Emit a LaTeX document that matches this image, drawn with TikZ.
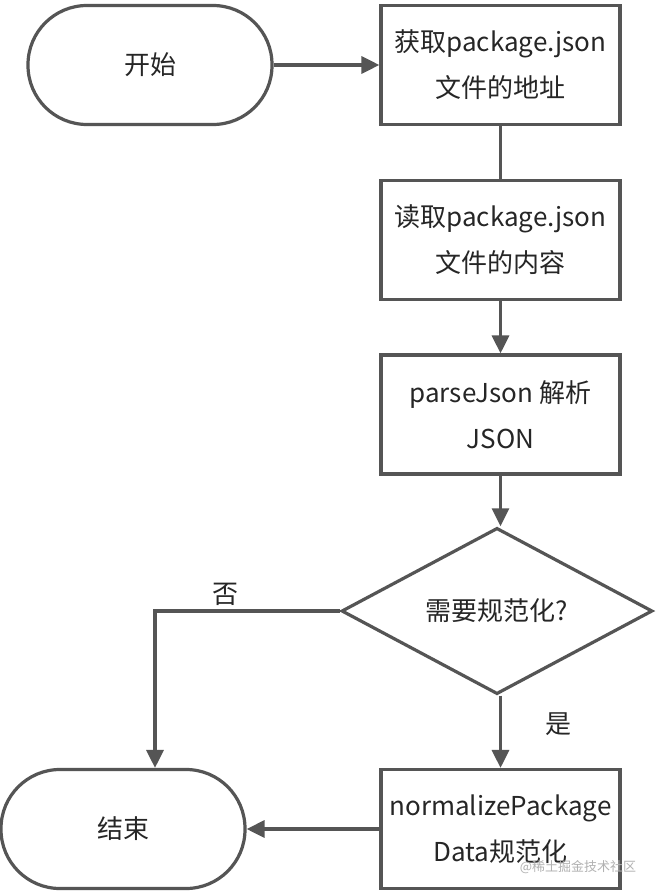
\documentclass[tikz,border=0pt]{standalone}
\usepackage{fontspec}
\setmainfont{Noto Sans CJK SC}
\usetikzlibrary{arrows.meta,shapes.geometric}
\definecolor{ln}{HTML}{555555}
\begin{document}
\begin{tikzpicture}[x=1pt,y=-1pt,
  every node/.style={font=\fontsize{26}{46}\selectfont, text=black!85},
  procbox/.style={draw=ln, line width=3.2pt, minimum width=239pt, minimum height=119pt, inner sep=0pt, align=center},
  term/.style={draw=ln, line width=3.2pt, minimum width=244pt, minimum height=119pt, rounded corners=59pt, inner sep=0pt},
  decide/.style={draw=ln, line width=3.2pt, diamond, minimum width=311pt, minimum height=158pt, inner sep=0pt},
  conn/.style={draw=ln, line width=3.2pt},
  arr/.style={conn, -{Triangle[length=18pt,width=17pt]}},
  lbl/.style={font=\fontsize{26}{30}\selectfont}
]
\path[fill=white] (0,0) rectangle (657,896);
\useasboundingbox (0,0) rectangle (657,896);

\node[term] (start) at (150,65) {开始};
\node[procbox] (b1) at (500.5,65) {获取package.json\\文件的地址};
\node[procbox] (b2) at (500.5,240) {读取package.json\\文件的内容};
\node[procbox] (b3) at (500.5,414.5) {parseJson 解析\\JSON};
\node[decide] (d) at (497,611) {需要规范化?};
\node[procbox] (b4) at (500.5,829) {normalizePackage\\Data规范化};
\node[term] (end) at (123,829) {结束};

\coordinate (corner) at (155,611);

\draw[arr] (start) -- (b1);
\draw[conn] (b1) -- (b2);
\draw[arr] (b2) -- (b3);
\draw[arr] (b3.south) -- (b3.south |- d.north);
\draw[arr] (d.west) -- (corner) -- (corner |- end.north);
\draw[arr] (b3.south |- d.south) -- (b4.north);
\draw[arr] (b4) -- (end);

\node[lbl] (no) at (225,594) {否};
\node[lbl] (yes) at (558,724) {是};
\node[font=\fontsize{13}{15}\selectfont, text=black!30] (wm) at (578,867) {@稀土掘金技术社区};
\end{tikzpicture}
\end{document}
